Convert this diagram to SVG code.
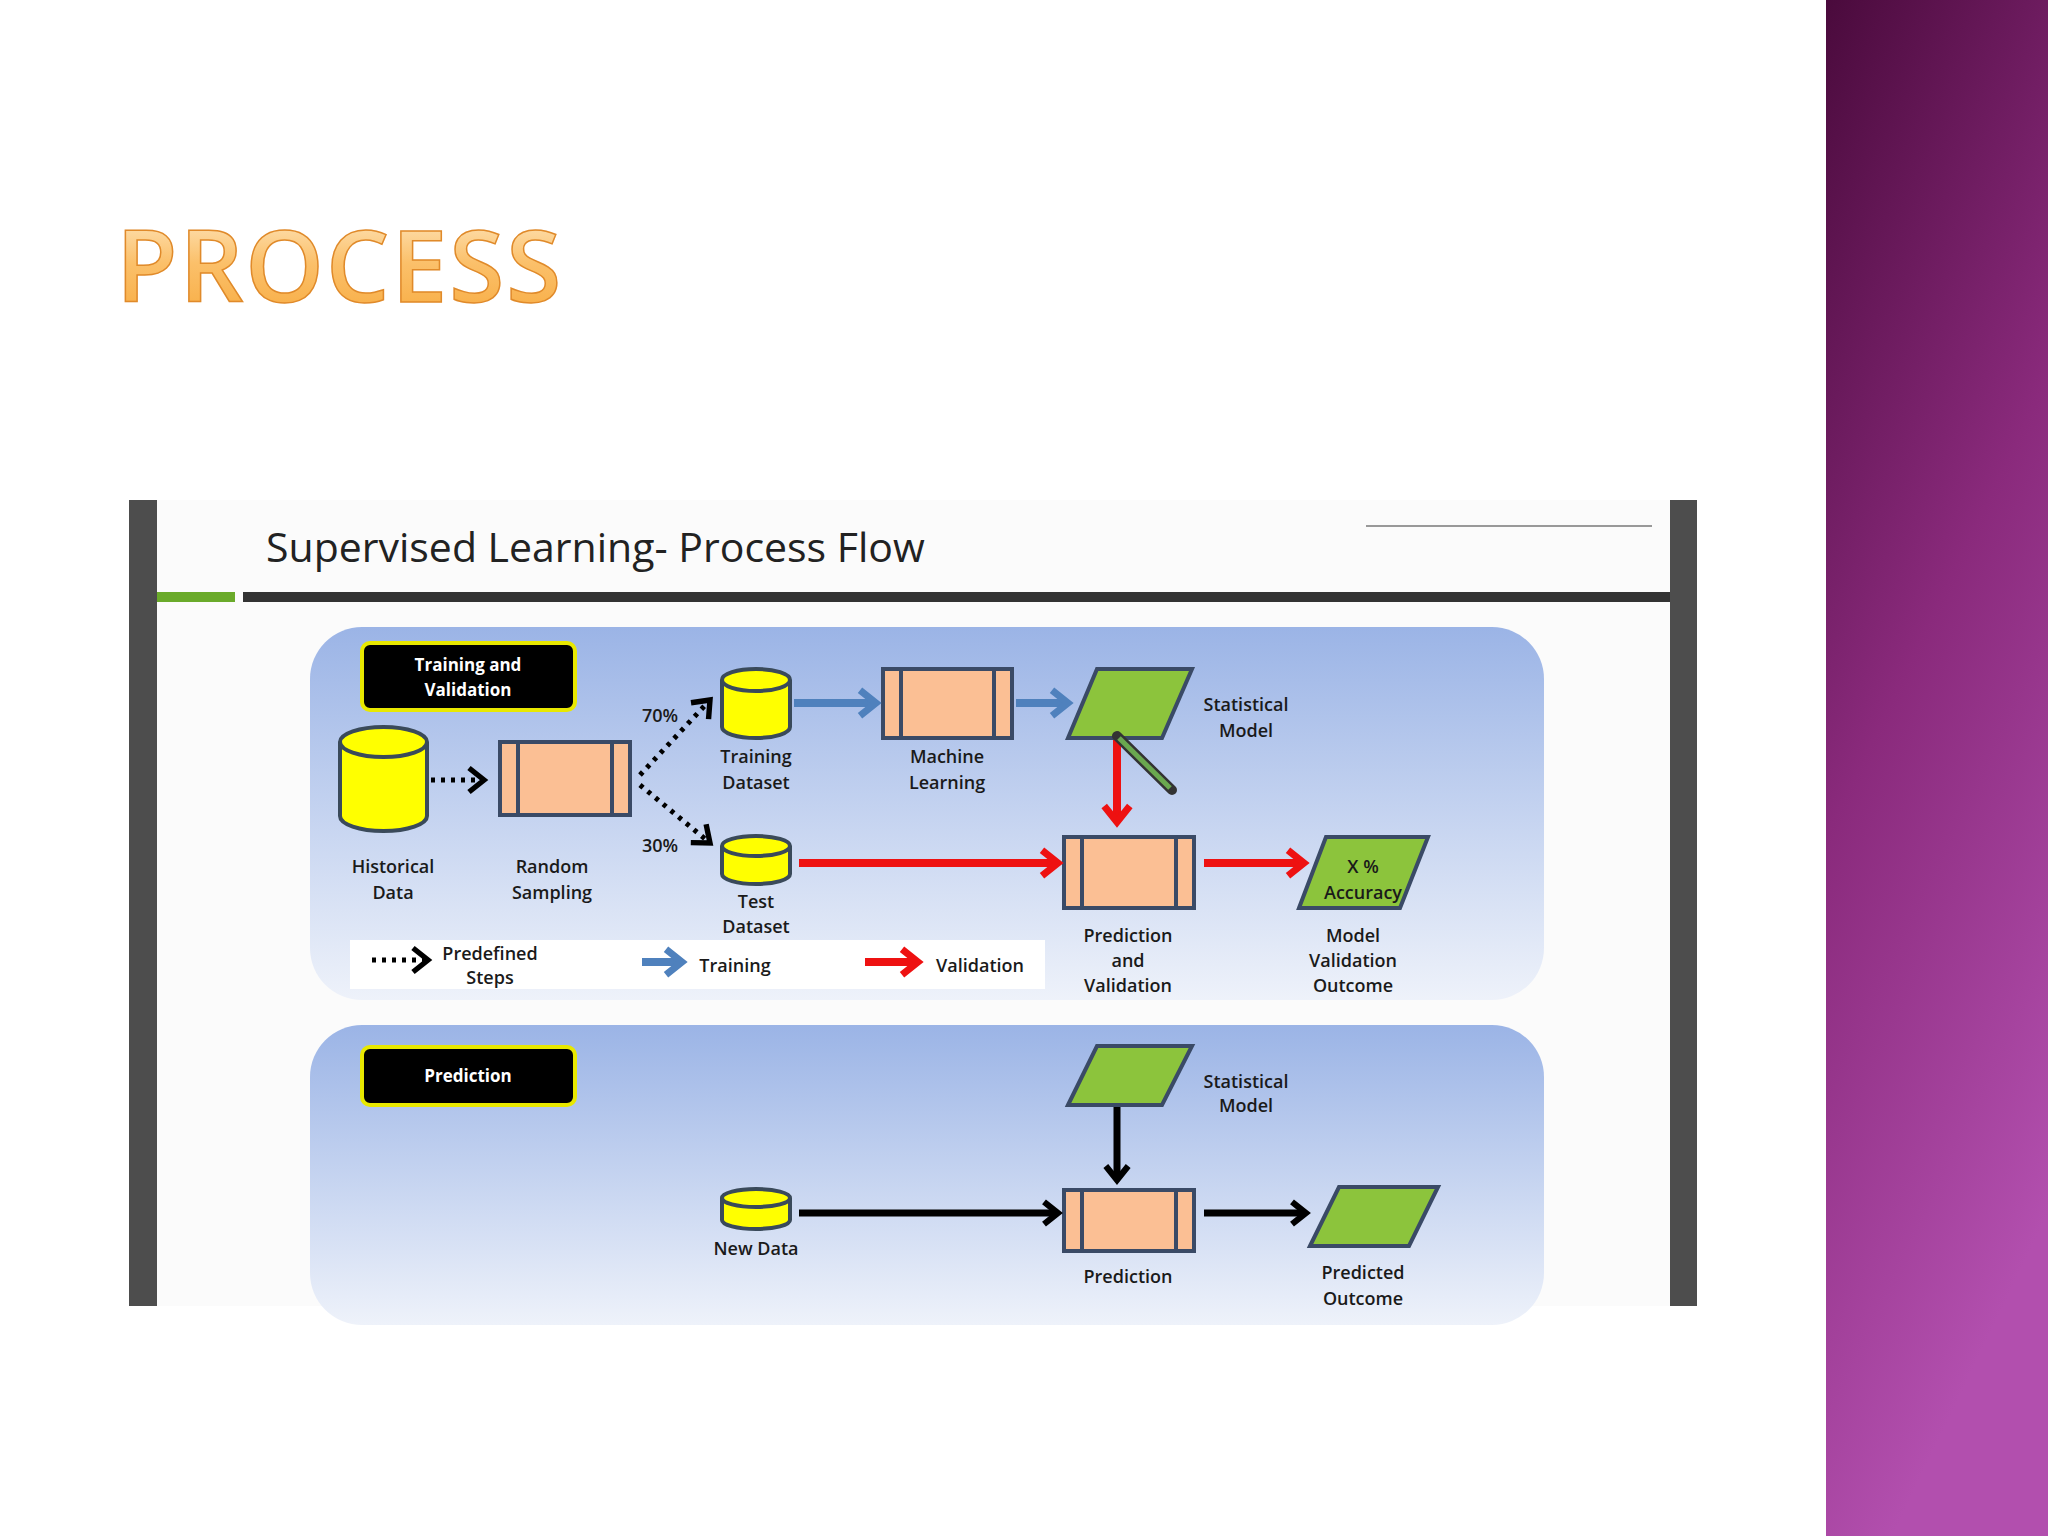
<svg xmlns="http://www.w3.org/2000/svg" width="2048" height="1536" viewBox="0 0 2048 1536">
<defs>
<linearGradient id="purp" x1="0" y1="0" x2="0.3" y2="1"><stop offset="0" stop-color="#4a0a3c"/><stop offset="0.5" stop-color="#8a2a7c"/><stop offset="1" stop-color="#b24fae"/></linearGradient>
<linearGradient id="orng" x1="0" y1="0" x2="0" y2="1"><stop offset="0" stop-color="#fff2d8"/><stop offset="0.5" stop-color="#fbc06a"/><stop offset="1" stop-color="#f7a83a"/></linearGradient>
<linearGradient id="panel" x1="0" y1="0" x2="0" y2="1"><stop offset="0" stop-color="#9bb4e6"/><stop offset="1" stop-color="#eef2fa"/></linearGradient>
<marker id="mb" viewBox="0 0 10 10" refX="7" refY="5" markerWidth="4" markerHeight="4" orient="auto" markerUnits="strokeWidth"><polyline points="2,1 7,5 2,9" fill="none" stroke="#4f81bd" stroke-width="2.2"/></marker>
<marker id="mr" viewBox="0 0 10 10" refX="7" refY="5" markerWidth="4" markerHeight="4" orient="auto" markerUnits="strokeWidth"><polyline points="2,1 7,5 2,9" fill="none" stroke="#ee1111" stroke-width="2.2"/></marker>
<marker id="mk" viewBox="0 0 10 10" refX="7" refY="5" markerWidth="4" markerHeight="4" orient="auto" markerUnits="strokeWidth"><polyline points="2,1 7,5 2,9" fill="none" stroke="#000" stroke-width="2.2"/></marker>
<marker id="md" viewBox="0 0 10 10" refX="7" refY="5" markerWidth="6" markerHeight="6" orient="auto" markerUnits="strokeWidth"><polyline points="2,1 7,5 2,9" fill="none" stroke="#000" stroke-width="1.8"/></marker>
</defs>
<style>
.t{font-family:"Open Sans","Liberation Sans",sans-serif;font-weight:600;font-size:18px;fill:#1a1a1a;text-anchor:middle}
.w{font-family:"Open Sans","Liberation Sans",sans-serif;font-weight:700;font-size:17px;fill:#fff;text-anchor:middle}
.cyl{fill:#ffff00;stroke:#3a4a5a;stroke-width:4}
.box{fill:#fbbf94;stroke:#3a4a66;stroke-width:4}
.par{fill:#8cc43c;stroke:#3a4a66;stroke-width:4}
.lab{fill:#000;stroke:#e8e800;stroke-width:4}
.bl{stroke:#4f81bd;stroke-width:8;fill:none;marker-end:url(#mb)}
.rd{stroke:#ee1111;stroke-width:8;fill:none;marker-end:url(#mr)}
.bk{stroke:#000;stroke-width:7;fill:none;marker-end:url(#mk)}
.dt{stroke:#000;stroke-width:5;fill:none;stroke-dasharray:4 6;marker-end:url(#md)}
</style>
<rect width="2048" height="1536" fill="#fff"/>
<rect x="1826" y="0" width="222" height="1536" fill="url(#purp)"/>
<text x="116" y="302" font-family="Open Sans, Liberation Sans, sans-serif" font-size="100" font-weight="600" fill="url(#orng)" stroke="#e08a2a" stroke-width="1.5" letter-spacing="2">PROCESS</text>

<g id="slide">
<rect x="129" y="500" width="1568" height="806" fill="#fbfbfb"/>
<rect x="129" y="500" width="28" height="806" fill="#4d4d4d"/>
<rect x="1670" y="500" width="27" height="806" fill="#4d4d4d"/>
<text x="266" y="562" font-family="Open Sans, Liberation Sans, sans-serif" font-size="41" fill="#222">Supervised Learning- Process Flow</text>
<rect x="157" y="592" width="78" height="10" fill="#6aaa2a"/>
<rect x="243" y="592" width="1427" height="10" fill="#333"/>
<line x1="1366" y1="526" x2="1652" y2="526" stroke="#999" stroke-width="2"/>
<rect x="310" y="627" width="1234" height="373" rx="52" fill="url(#panel)"/>
<rect x="310" y="1025" width="1234" height="300" rx="52" fill="url(#panel)"/>
</g>

<g id="legend">
<rect x="350" y="940" width="695" height="49" fill="#fff"/>
<line x1="372" y1="960" x2="428" y2="960" class="dt"/>
<text class="t" x="490" y="960">Predefined</text><text class="t" x="490" y="984">Steps</text>
<line x1="642" y1="962" x2="682" y2="962" class="bl"/>
<text class="t" x="735" y="972">Training</text>
<line x1="865" y1="962" x2="918" y2="962" class="rd"/>
<text class="t" x="980" y="972">Validation</text>
</g>

<g id="lab-training"><rect class="lab" x="362" y="643" width="213" height="67" rx="8"/><text class="w" x="468" y="671">Training and</text><text class="w" x="468" y="696">Validation</text></g>
<g id="lab-prediction"><rect class="lab" x="362" y="1047" width="213" height="58" rx="8"/><text class="w" x="468" y="1082">Prediction</text></g>

<g id="historical"><path class="cyl" d="M340,742 V816 A43.5,15 0 0 0 427,816 V742"/><ellipse class="cyl" cx="383.5" cy="742" rx="43.5" ry="15"/><text class="t" x="393" y="873">Historical</text><text class="t" x="393" y="899">Data</text></g>
<g id="random"><rect class="box" x="500" y="742" width="130" height="73"/><line x1="518" y1="742" x2="518" y2="815" stroke="#3a4a66" stroke-width="4"/><line x1="612" y1="742" x2="612" y2="815" stroke="#3a4a66" stroke-width="4"/><text class="t" x="552" y="873">Random</text><text class="t" x="552" y="899">Sampling</text></g>
<g id="trainds"><path class="cyl" d="M722,680 V727 A34,11 0 0 0 790,727 V680"/><ellipse class="cyl" cx="756" cy="680" rx="34" ry="11"/><text class="t" x="756" y="763">Training</text><text class="t" x="756" y="789">Dataset</text></g>
<g id="ml"><rect class="box" x="883" y="669" width="129" height="69"/><line x1="901" y1="669" x2="901" y2="738" stroke="#3a4a66" stroke-width="4"/><line x1="994" y1="669" x2="994" y2="738" stroke="#3a4a66" stroke-width="4"/><text class="t" x="947" y="763">Machine</text><text class="t" x="947" y="789">Learning</text></g>
<g id="statmodel"><polygon class="par" points="1068,738 1097,669 1192,669 1162,738"/><text class="t" x="1246" y="711">Statistical</text><text class="t" x="1246" y="737">Model</text></g>
<g id="testds"><path class="cyl" d="M722,846 V874 A34,10 0 0 0 790,874 V846"/><ellipse class="cyl" cx="756" cy="846" rx="34" ry="10"/><text class="t" x="756" y="908">Test</text><text class="t" x="756" y="933">Dataset</text></g>
<g id="predval"><rect class="box" x="1064" y="837" width="130" height="71"/><line x1="1082" y1="837" x2="1082" y2="908" stroke="#3a4a66" stroke-width="4"/><line x1="1176" y1="837" x2="1176" y2="908" stroke="#3a4a66" stroke-width="4"/><text class="t" x="1128" y="942">Prediction</text><text class="t" x="1128" y="967">and</text><text class="t" x="1128" y="992">Validation</text></g>
<g id="accuracy"><polygon class="par" points="1299,908 1326,837 1428,837 1400,908"/><text class="t" x="1363" y="873">X %</text><text class="t" x="1363" y="899">Accuracy</text><text class="t" x="1353" y="942">Model</text><text class="t" x="1353" y="967">Validation</text><text class="t" x="1353" y="992">Outcome</text></g>

<g id="statmodel2"><polygon class="par" points="1068,1105 1097,1046 1192,1046 1162,1105"/><text class="t" x="1246" y="1088">Statistical</text><text class="t" x="1246" y="1112">Model</text></g>
<g id="newdata"><path class="cyl" d="M722,1198 V1220 A34,9 0 0 0 790,1220 V1198"/><ellipse class="cyl" cx="756" cy="1198" rx="34" ry="9"/><text class="t" x="756" y="1255">New Data</text></g>
<g id="prediction"><rect class="box" x="1064" y="1190" width="130" height="61"/><line x1="1082" y1="1190" x2="1082" y2="1251" stroke="#3a4a66" stroke-width="4"/><line x1="1176" y1="1190" x2="1176" y2="1251" stroke="#3a4a66" stroke-width="4"/><text class="t" x="1128" y="1283">Prediction</text></g>
<g id="predout"><polygon class="par" points="1310,1246 1339,1187 1438,1187 1409,1246"/><text class="t" x="1363" y="1279">Predicted</text><text class="t" x="1363" y="1305">Outcome</text></g>

<g id="connectors">
<line x1="431" y1="780" x2="484" y2="780" class="dt"/>
<line x1="640" y1="775" x2="710" y2="700" class="dt"/>
<line x1="640" y1="785" x2="710" y2="843" class="dt"/>
<text class="t" x="660" y="722" font-size="16">70%</text>
<text class="t" x="660" y="852" font-size="16">30%</text>
<line x1="794" y1="703" x2="876" y2="703" class="bl"/>
<line x1="1016" y1="703" x2="1068" y2="703" class="bl"/>
<line x1="1117" y1="740" x2="1117" y2="822" class="rd"/>
<line x1="799" y1="863" x2="1058" y2="863" class="rd"/>
<line x1="1204" y1="863" x2="1304" y2="863" class="rd"/>
<line x1="1117" y1="1107" x2="1117" y2="1180" class="bk"/>
<line x1="799" y1="1213" x2="1058" y2="1213" class="bk"/>
<line x1="1204" y1="1213" x2="1306" y2="1213" class="bk"/>
</g>
<g id="pen"><line x1="1117" y1="736" x2="1172" y2="790" stroke="#333" stroke-width="10" stroke-linecap="round"/><line x1="1119" y1="738" x2="1170" y2="788" stroke="#6aa84f" stroke-width="5"/></g>
</svg>
